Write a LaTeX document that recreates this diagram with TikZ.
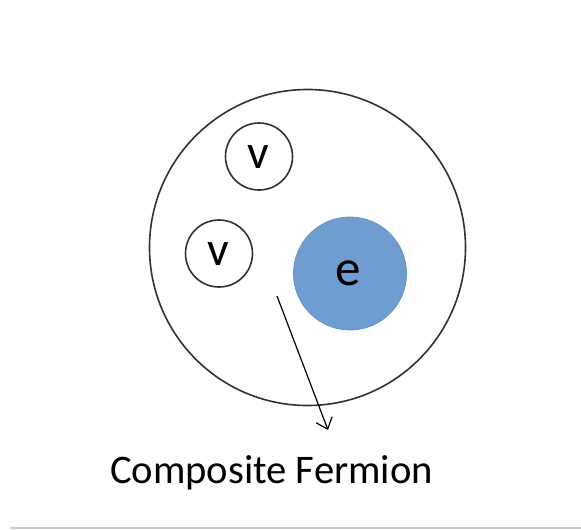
\documentclass[tikz,border=0pt]{standalone}
\usepackage{fontspec}
\setmainfont{Carlito}
\usetikzlibrary{arrows.meta}
\definecolor{eblue}{RGB}{112,157,207}
\definecolor{eborder}{RGB}{102,147,197}
\definecolor{ringgray}{RGB}{50,50,50}
\definecolor{rulegray}{RGB}{205,205,205}
\tikzset{
  particle/.style={circle, draw=ringgray, line width=1.6pt, inner sep=0pt},
  vbox/.style={particle, minimum size=67pt},
  ebox/.style={circle, fill=eblue, draw=eborder, line width=0.8pt, minimum size=113pt, inner sep=0pt},
  letter/.style={inner sep=0pt, font=\fontsize{48}{48}\selectfont},
  pointer/.style={line width=1.2pt, -{Straight Barb[length=10pt,width=17pt,line width=1.2pt]}},
}
\begin{document}
\begin{tikzpicture}[x=1pt,y=-1pt]
\useasboundingbox[fill=white] (0,0) rectangle (581,530);
\node[particle, minimum size=316pt] (outer) at (307.5,247.5) {};
\node[vbox] (v1) at (259,156.5) {};
\node[letter] (v1t) at (258.5,157) {v};
\node[vbox] (v2) at (219,253.5) {};
\node[letter] (v2t) at (218.5,254) {v};
\node[ebox] (e) at (350,273.5) {};
\node[letter, font=\fontsize{51}{51}\selectfont] (et) at (348,273) {e};
\coordinate (start) at (277,296);
\coordinate (tip) at (328,430);
\draw[pointer] (start) -- (tip);
\node[anchor=base, font=\fontsize{40.6}{40.6}\selectfont, inner sep=0pt] (label) at (271.5,483.5) {Composite Fermion};
\coordinate (r1) at (10,528);
\coordinate (r2) at (581,528);
\draw[rulegray, line width=2pt] (r1) -- (r2);
\end{tikzpicture}
\end{document}
